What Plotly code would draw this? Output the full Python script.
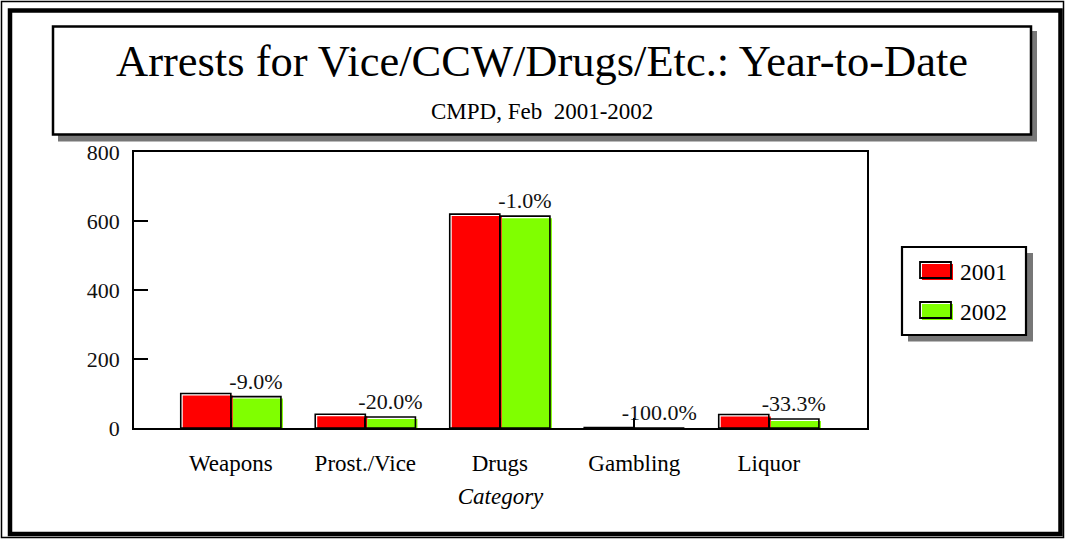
import plotly.graph_objects as go

categories = ["Weapons", "Prost./Vice", "Drugs", "Gambling", "Liquor"]
series_names = ["2001", "2002"]
values_2001 = [100, 40, 620, 1, 39]
values_2002 = [91, 32, 614, 0, 26]
change_labels = ["-9.0%", "-20.0%", "-1.0%", "-100.0%", "-33.3%"]
y_ticks = [0, 200, 400, 600, 800]
colors = ["#FF0000", "#80FF00"]

FONT = "Liberation Serif"
W, H = 1065, 539
L, T = 134, 152
PW, PH = 735, 278
R = W - L - PW
B = H - T - PH


def px(x):
    return (x - L) / PW


def py(y):
    return 1 - (y - T) / PH


fig = go.Figure()

# filled bars (slightly offset, drawn underneath)
for vals, name, col in zip([values_2001, values_2002], series_names, colors):
    fig.add_trace(go.Bar(x=categories, y=vals, name=name, marker=dict(color=col, line=dict(width=0)),
                         xaxis="x", yaxis="y", showlegend=False, hoverinfo="skip"))

# outlines on the visible axes
for k, (vals, name) in enumerate(zip([values_2001, values_2002], series_names)):
    fig.add_trace(go.Bar(x=categories, y=vals, name=name,
                         marker=dict(color="rgba(0,0,0,0)", line=dict(width=1.6, color="black")),
                         text=change_labels if k == 1 else None,
                         textposition="outside" if k == 1 else None,
                         constraintext="none",
                         textfont=dict(family=FONT, size=22, color="#111"),
                         cliponaxis=False,
                         xaxis="x2", yaxis="y2", showlegend=False))

shapes = []
# outer frame
shapes.append(dict(type="rect", xref="paper", yref="paper", x0=px(1.5), y0=py(1.5), x1=px(1063.5), y1=py(537.5),
                   line=dict(color="black", width=1.5), layer="below"))
shapes.append(dict(type="rect", xref="paper", yref="paper", x0=px(10), y0=py(10.5), x1=px(1060.5), y1=py(534),
                   line=dict(color="black", width=4.5), layer="below"))
# title box shadow + box
shapes.append(dict(type="rect", xref="paper", yref="paper", x0=px(58), y0=py(31), x1=px(1037), y1=py(141.5),
                   fillcolor="#777777", line=dict(width=0), layer="below"))
shapes.append(dict(type="rect", xref="paper", yref="paper", x0=px(53), y0=py(26.5), x1=px(1031), y1=py(134.5),
                   fillcolor="white", line=dict(color="black", width=2.5), layer="below"))
# legend box shadow + box
shapes.append(dict(type="rect", xref="paper", yref="paper", x0=px(908), y0=py(253), x1=px(1033), y1=py(341.5),
                   fillcolor="#777777", line=dict(width=0), layer="below"))
shapes.append(dict(type="rect", xref="paper", yref="paper", x0=px(902), y0=py(247), x1=px(1026), y1=py(335),
                   fillcolor="white", line=dict(color="black", width=2.2), layer="below"))

annotations = [
    dict(text="Arrests for Vice/CCW/Drugs/Etc.: Year-to-Date", xref="paper", yref="paper",
         x=px(542), y=py(61), xanchor="center", yanchor="middle", showarrow=False,
         font=dict(family=FONT, size=44.5, color="black")),
    dict(text="CMPD, Feb\u00a0 2001-2002", xref="paper", yref="paper",
         x=px(542), y=py(111), xanchor="center", yanchor="middle", showarrow=False,
         font=dict(family=FONT, size=23, color="black")),
]

# legend swatches and labels
for k, (name, col) in enumerate(zip(series_names, colors)):
    y0 = 262 + 40 * k
    shapes.append(dict(type="rect", xref="paper", yref="paper", x0=px(922), y0=py(y0 + 2), x1=px(953), y1=py(y0 + 18),
                       fillcolor=col, line=dict(width=0)))
    shapes.append(dict(type="rect", xref="paper", yref="paper", x0=px(920), y0=py(y0), x1=px(951), y1=py(y0 + 16),
                       fillcolor="rgba(0,0,0,0)", line=dict(color="black", width=1.8)))
    annotations.append(dict(text=name, xref="paper", yref="paper", x=px(958), y=py(y0 + 10),
                            xanchor="left", yanchor="middle", showarrow=False,
                            font=dict(family=FONT, size=23.5, color="black")))

xr = [-0.72, 4.73]
fig.update_layout(
    width=W, height=H,
    margin=dict(l=L, r=R, t=T, b=B, pad=0),
    paper_bgcolor="white", plot_bgcolor="rgba(0,0,0,0)",
    barmode="group", bargap=0.255, bargroupgap=0,
    showlegend=False,
    shapes=shapes, annotations=annotations,
    xaxis=dict(domain=[2 / PW, 1], range=xr, type="category", visible=False, anchor="y"),
    yaxis=dict(domain=[0, (PH - 2) / PH], range=[0, 800], visible=False, anchor="x"),
    xaxis2=dict(domain=[0, (PW - 2) / PW], range=xr, type="category", anchor="y2",
                showline=True, mirror=True, linecolor="black", linewidth=1.6,
                ticks="inside", ticklen=10, tickwidth=1.6, tickcolor="black",
                showgrid=False, zeroline=False, ticklabelstandoff=14,
                tickfont=dict(family=FONT, size=23, color="black"),
                title=dict(text="Category", standoff=12,
                           font=dict(family=FONT, size=23, color="black", style="italic"))),
    yaxis2=dict(domain=[2 / PH, 1], range=[0, 800], anchor="x2",
                tickvals=y_ticks, ticktext=[str(v) for v in y_ticks],
                showline=True, mirror=True, linecolor="black", linewidth=1.6,
                ticks="inside", ticklen=14, tickwidth=2, tickcolor="black",
                showgrid=False, zeroline=False, ticklabelstandoff=8,
                tickfont=dict(family=FONT, size=22, color="#111")),
)

fig.write_html("out.html", config={"displayModeBar": False},
               post_script="document.body.style.margin='0';document.body.style.padding='0';")
